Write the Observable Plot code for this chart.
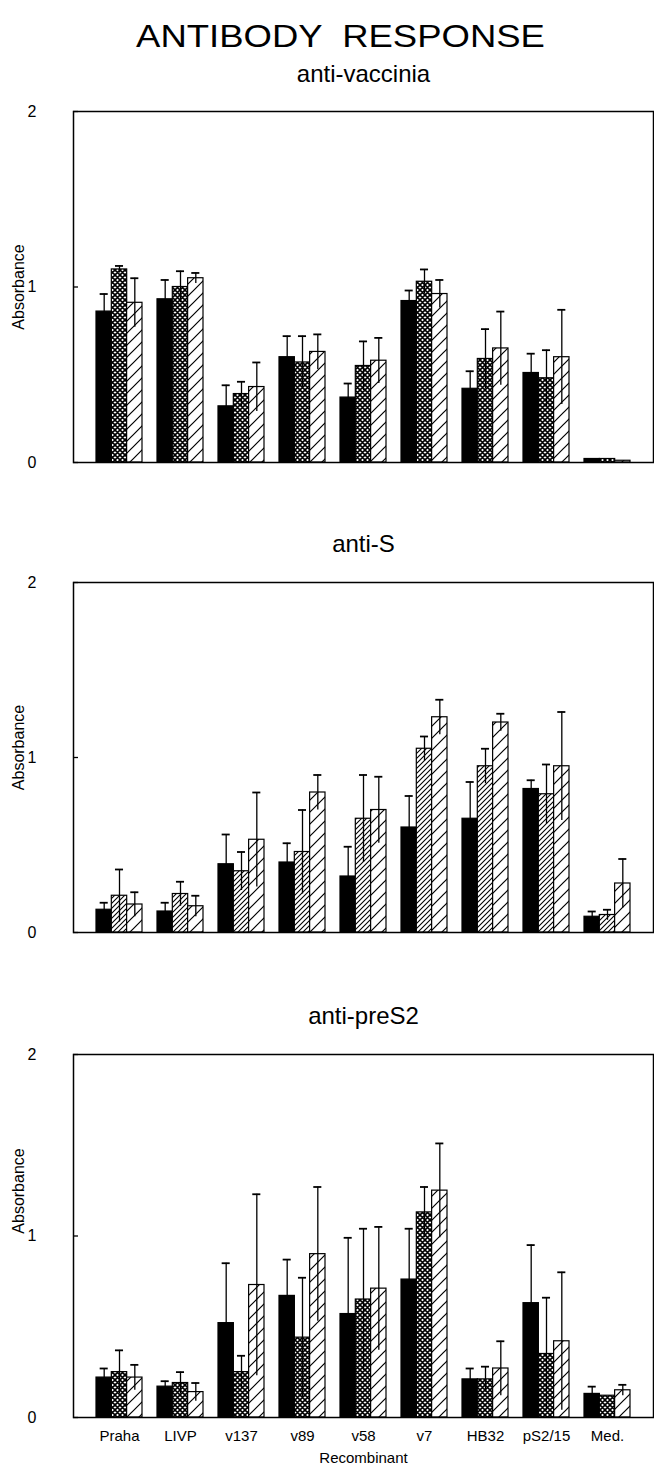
<!DOCTYPE html>
<html><head><meta charset="utf-8">
<script src="https://cdn.jsdelivr.net/npm/d3@7"></script>
<script src="https://cdn.jsdelivr.net/npm/@observablehq/plot@0.6"></script>
<style>
body{margin:0;background:#fff;width:654px;height:1477px;position:relative;overflow:hidden;font-family:"Liberation Sans",Arial,sans-serif;color:#000;}
.t{position:absolute;left:0;width:727px;text-align:center;white-space:pre;}
.p{position:absolute;left:0;}
g[aria-label="y-axis tick label"]{font-size:16px !important;}
g[aria-label="x-axis tick label"]{font-size:15px !important;}
g[aria-label="x-axis label"]{font-size:15px !important;}
</style></head><body>
<svg width="0" height="0" style="position:absolute;left:0;top:0">
<defs>
<pattern id="pCheck" patternUnits="userSpaceOnUse" width="5" height="5">
<rect width="5" height="5" fill="white"/>
<path d="M-1,1L1,-1M0,5L5,0M4,6L6,4M-1,4L1,6M0,0L5,5M4,-1L6,1" stroke="black" stroke-width="1.6"/>
</pattern>
<pattern id="pFine" patternUnits="userSpaceOnUse" width="5" height="5">
<rect width="5" height="5" fill="white"/>
<path d="M-1,1L1,-1M0,5L5,0M4,6L6,4" stroke="black" stroke-width="1.1"/>
</pattern>
<pattern id="pWide" patternUnits="userSpaceOnUse" width="12" height="12">
<rect width="12" height="12" fill="white"/>
<path d="M-3,3L3,-3M0,12L12,0M9,15L15,9" stroke="black" stroke-width="1.2"/>
</pattern>
</defs>
</svg>
<div class="t" style="top:20px;font-size:32px;line-height:32px;left:-23px;transform:scaleX(1.14);">ANTIBODY  RESPONSE</div>
<div class="t" style="top:62px;font-size:24px;line-height:24px">anti-vaccinia</div>
<div class="t" style="top:532px;font-size:24px;line-height:24px">anti-S</div>
<div class="t" style="top:1004px;font-size:24px;line-height:24px">anti-preS2</div>
<div id="p1" class="p" style="top:100px"></div>
<div id="p2" class="p" style="top:570px"></div>
<div id="p3" class="p" style="top:1040px"></div>
<script>
// Categories
const recombinants = ["Praha", "LIVP", "v137", "v89", "v58", "v7", "HB32", "pS2/15", "Med."];
const yTicks = [0, 1, 2];

// anti-vaccinia
const vacBlack    = [0.86, 0.93, 0.32, 0.60, 0.37, 0.92, 0.42, 0.51, 0.02];
const vacBlackSD  = [0.10, 0.11, 0.12, 0.12, 0.08, 0.06, 0.10, 0.11, 0];
const vacMid      = [1.10, 1.00, 0.39, 0.57, 0.55, 1.03, 0.59, 0.48, 0.02];
const vacMidSD    = [0.02, 0.09, 0.07, 0.15, 0.14, 0.07, 0.17, 0.16, 0];
const vacHatch    = [0.91, 1.05, 0.43, 0.63, 0.58, 0.96, 0.65, 0.60, 0.01];
const vacHatchSD  = [0.14, 0.03, 0.14, 0.10, 0.13, 0.08, 0.21, 0.27, 0];

// anti-S
const sBlack   = [0.13, 0.12, 0.39, 0.40, 0.32, 0.60, 0.65, 0.82, 0.09];
const sBlackSD = [0.04, 0.05, 0.17, 0.11, 0.17, 0.18, 0.21, 0.05, 0.03];
const sMid     = [0.21, 0.22, 0.35, 0.46, 0.65, 1.05, 0.95, 0.79, 0.10];
const sMidSD   = [0.15, 0.07, 0.11, 0.24, 0.25, 0.07, 0.10, 0.17, 0.03];
const sHatch   = [0.16, 0.15, 0.53, 0.80, 0.70, 1.23, 1.20, 0.95, 0.28];
const sHatchSD = [0.07, 0.06, 0.27, 0.10, 0.19, 0.10, 0.05, 0.31, 0.14];

// anti-preS2
const pBlack   = [0.22, 0.17, 0.52, 0.67, 0.57, 0.76, 0.21, 0.63, 0.13];
const pBlackSD = [0.05, 0.03, 0.33, 0.20, 0.42, 0.28, 0.06, 0.32, 0.04];
const pMid     = [0.25, 0.19, 0.25, 0.44, 0.65, 1.13, 0.21, 0.35, 0.12];
const pMidSD   = [0.12, 0.06, 0.09, 0.33, 0.39, 0.14, 0.07, 0.31, 0.01];
const pHatch   = [0.22, 0.14, 0.73, 0.90, 0.71, 1.25, 0.27, 0.42, 0.15];
const pHatchSD = [0.07, 0.05, 0.50, 0.37, 0.34, 0.26, 0.15, 0.38, 0.03];

const W = 654, ML = 73, MR = 1;
const PI = 0.25, PO = 0.36;
const step = (W - ML - MR) / (recombinants.length - PI + 2 * PO);
const bw = step * (1 - PI);
const bar = bw / 3;
const capHalf = 4;

function panel(el, cfg) {
  const series = [
    {vals: cfg.black, sds: cfg.blackSD, fill: "black", pat: null},
    {vals: cfg.mid, sds: cfg.midSD, fill: "#fe0001", pat: cfg.midPattern},
    {vals: cfg.hatch, sds: cfg.hatchSD, fill: "#fe0002", pat: "pWide"}
  ];
  const marks = [];
  series.forEach((s, i) => {
    const rows = recombinants.map((r, j) => ({rec: r, value: s.vals[j], sd: s.sds[j]}));
    marks.push(Plot.barY(rows, {x: "rec", y: "value", fill: s.fill, stroke: "black", strokeWidth: 1.2,
      insetLeft: i * bar, insetRight: (2 - i) * bar}));
  });
  series.forEach((s, i) => {
    const rows = recombinants.map((r, j) => ({rec: r, value: s.vals[j], sd: s.sds[j]})).filter(d => d.sd > 0.015);
    const c = bar * i + bar / 2;
    marks.push(Plot.ruleX(rows, {x: "rec", y1: d => d.value - d.sd, y2: d => d.value + d.sd, dx: (i - 1) * bar, stroke: "black", strokeWidth: 1.3}));
    marks.push(Plot.tickY(rows, {x: "rec", y: d => d.value + d.sd, insetLeft: c - capHalf, insetRight: bw - c - capHalf, stroke: "black", strokeWidth: 1.8}));
  });
  marks.push(Plot.frame({stroke: "black", strokeWidth: 1.5}));
  marks.push(Plot.axisY({ticks: yTicks, tickSize: -5, tickPadding: 42, tickFormat: d => String(d), fontSize: 16, label: null, strokeWidth: 1.3}));
  marks.push(Plot.text(["Absorbance"], {frameAnchor: "left", textAnchor: "middle", dx: -55, dy: cfg.labelDy, rotate: -90, text: d => d, fontSize: 16}));
  if (cfg.showX) {
    marks.push(Plot.axisX({tickSize: 0, tickPadding: 13, fontSize: 15, label: "Recombinant", labelAnchor: "center", labelOffset: 45}));
  }
  const svg = Plot.plot({
    width: W, height: cfg.height,
    marginLeft: ML, marginRight: MR, marginTop: cfg.mt, marginBottom: cfg.mb,
    x: {type: "band", domain: recombinants, paddingInner: PI, paddingOuter: PO, align: 0.5, axis: cfg.showX ? undefined : null},
    y: {domain: [0, 2]},
    style: {fontFamily: "Liberation Sans, Arial, sans-serif", fontSize: "15px", color: "black", background: "white", overflow: "visible"},
    marks
  });
  series.forEach(s => {
    if (s.pat) svg.querySelectorAll(`[fill="${s.fill}"]`).forEach(n => n.setAttribute("fill", `url(#${s.pat})`));
  });
  document.getElementById(el).appendChild(svg);
}

panel("p1", {height: 368, mt: 11, mb: 6, labelDy: 0, black: vacBlack, blackSD: vacBlackSD, mid: vacMid, midSD: vacMidSD, hatch: vacHatch, hatchSD: vacHatchSD, midPattern: "pCheck"});
panel("p2", {height: 368, mt: 12, mb: 6, labelDy: -10, black: sBlack, blackSD: sBlackSD, mid: sMid, midSD: sMidSD, hatch: sHatch, hatchSD: sHatchSD, midPattern: "pFine"});
panel("p3", {height: 437, mt: 14, mb: 60, labelDy: -45, black: pBlack, blackSD: pBlackSD, mid: pMid, midSD: pMidSD, hatch: pHatch, hatchSD: pHatchSD, midPattern: "pCheck", showX: true});
</script>
</body></html>
